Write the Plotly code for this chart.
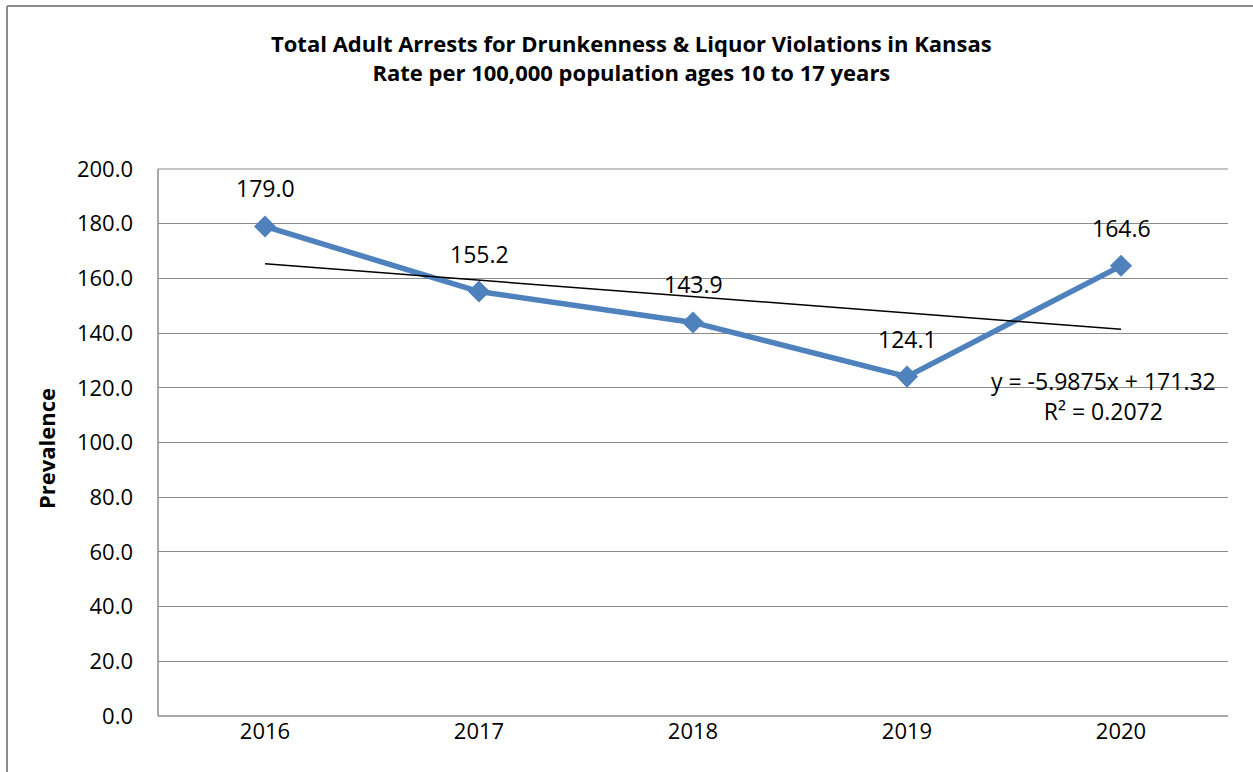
import plotly.graph_objects as go

years = ["2016", "2017", "2018", "2019", "2020"]
rates = [179.0, 155.2, 143.9, 124.1, 164.6]
trend_slope = -5.9875
trend_intercept = 171.32
r_squared = 0.2072
y_ticks = [0, 20, 40, 60, 80, 100, 120, 140, 160, 180, 200]

W, H = 1253, 772
L, R, T, B = 158, 25, 169, 56
pw, ph = W - L - R, H - T - B

def px_x(p):
    return (p - L) / pw

def px_y(p):
    return (H - B - p) / ph

FONT = "Open Sans"
xs = list(range(1, len(years) + 1))
trend = [trend_slope * x + trend_intercept for x in xs]

fig = go.Figure()
fig.add_trace(go.Scatter(
    x=xs, y=rates, mode="lines+markers",
    line=dict(color="#4F81BD", width=5.5),
    marker=dict(symbol="diamond", size=17, color="#4F81BD"),
    showlegend=False, hoverinfo="skip", cliponaxis=False,
))
fig.add_trace(go.Scatter(
    x=[xs[0], xs[-1]], y=[trend[0], trend[-1]], mode="lines",
    line=dict(color="black", width=1.5),
    showlegend=False, hoverinfo="skip",
))

annotations = []
for x, v in zip(xs, rates):
    annotations.append(dict(
        x=x, y=v, xref="x", yref="y", text=f"{v:.1f}", showarrow=False,
        yshift=38, font=dict(family=FONT, size=23, color="black"),
    ))

annotations.append(dict(
    x=px_x(1103), y=px_y(396), xref="paper", yref="paper",
    text=f"y = {trend_slope}x + {trend_intercept}<br>R² = {r_squared}",
    showarrow=False, align="center", xanchor="center", yanchor="middle",
    font=dict(family=FONT, size=23, color="black"),
))
annotations.append(dict(
    x=px_x(631), y=px_y(58), xref="paper", yref="paper",
    text="<b>Total Adult Arrests for Drunkenness &amp; Liquor Violations in Kansas</b><br><b>Rate per 100,000 population ages 10 to 17 years</b>",
    showarrow=False, align="center", xanchor="center", yanchor="middle",
    font=dict(family=FONT, size=22, color="black"),
))
annotations.append(dict(
    x=px_x(46), y=px_y(449), xref="paper", yref="paper",
    text="<b>Prevalence</b>", textangle=-90, showarrow=False,
    xanchor="center", yanchor="middle",
    font=dict(family=FONT, size=22, color="black"),
))

border = dict(color="#8c8c8c", width=2)
axis_line = dict(color="#8c8c8c", width=1.5)
fig.update_layout(
    width=W, height=H,
    margin=dict(l=L, r=R, t=T, b=B),
    paper_bgcolor="white", plot_bgcolor="white",
    annotations=annotations,
    shapes=[
        dict(type="line", xref="paper", yref="paper",
             x0=px_x(7), x1=px_x(7), y0=px_y(H), y1=px_y(6), line=border, layer="below"),
        dict(type="line", xref="paper", yref="paper",
             x0=px_x(7), x1=px_x(W), y0=px_y(6), y1=px_y(6), line=border, layer="below"),
        dict(type="line", xref="paper", yref="paper", x0=0, x1=1, y0=1, y1=1,
             line=dict(color="#8c8c8c", width=1.2)),
        dict(type="line", xref="paper", yref="paper", x0=0, x1=1, y0=0, y1=0,
             line=axis_line),
        dict(type="line", xref="paper", yref="paper", x0=0, x1=0, y0=0, y1=1,
             line=axis_line),
    ],
    xaxis=dict(
        tickvals=xs, ticktext=years, range=[0.5, len(years) + 0.5],
        showgrid=False, zeroline=False, showline=False, ticks="",
        tickfont=dict(family=FONT, size=22, color="black"),
        fixedrange=True,
    ),
    yaxis=dict(
        range=[0, 200], tickvals=y_ticks,
        ticktext=[f"{v:.1f}" for v in y_ticks],
        showgrid=True, gridcolor="#8c8c8c", gridwidth=1.2,
        zeroline=False, showline=False,
        ticks="", ticklabelstandoff=24,
        tickfont=dict(family=FONT, size=22, color="black"),
        fixedrange=True,
    ),
)

fig.write_html(
    "out.html",
    config={"displayModeBar": False},
    post_script="document.body.style.margin='0';document.body.style.overflow='hidden';",
)
